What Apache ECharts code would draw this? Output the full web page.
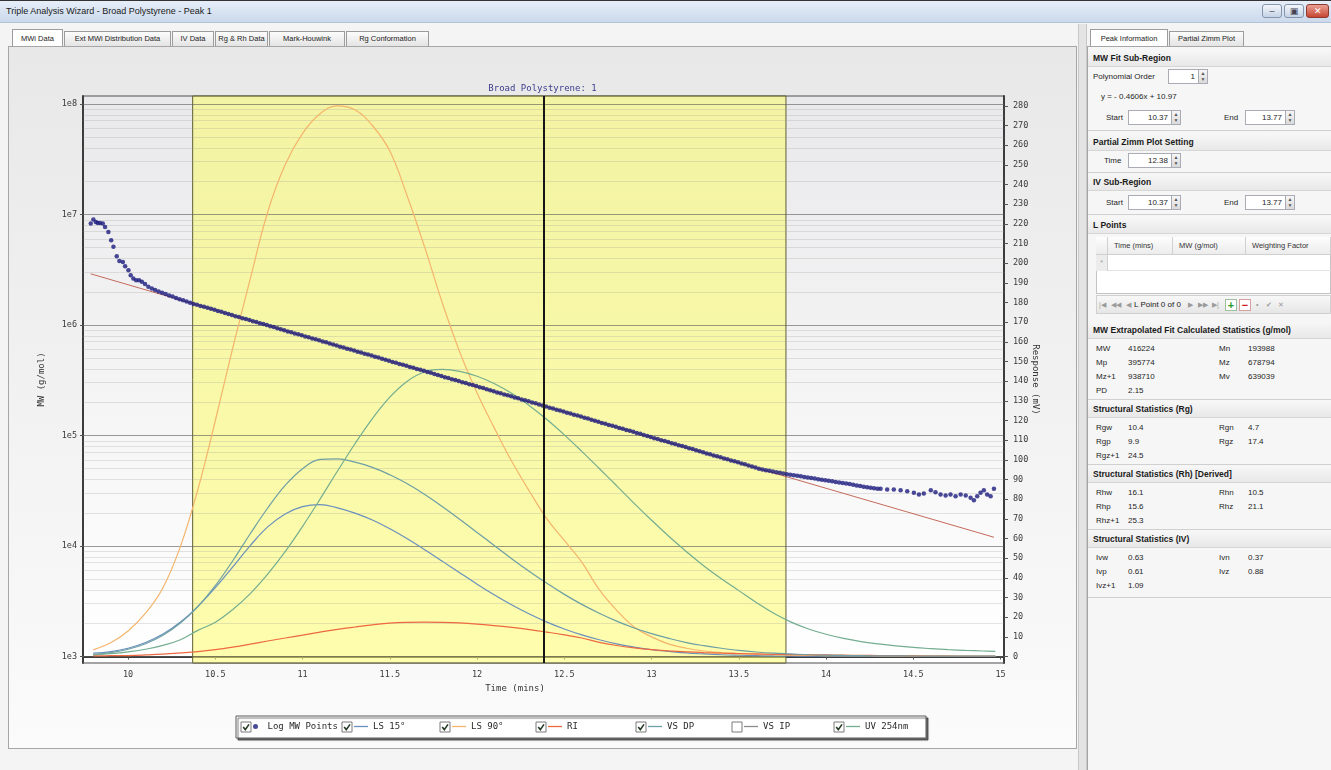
<!DOCTYPE html>
<html>
<head>
<meta charset="utf-8">
<title>Triple Analysis Wizard - Broad Polystyrene - Peak 1</title>
<script src="https://cdn.jsdelivr.net/npm/echarts@6.0.0/dist/echarts.min.js"></script>
<style>
*{box-sizing:border-box;margin:0;padding:0}
html,body{width:1331px;height:770px;overflow:hidden}
body{position:relative;background:#f4f4f4;font-family:"Liberation Sans",Arial,sans-serif;font-size:8px;color:#1e1e1e}
.a{position:absolute;white-space:nowrap}
#titlebar{left:0;top:0;width:1331px;height:23px;background:linear-gradient(#e6eef8,#cbd9ec);border-top:1px solid #333;border-bottom:1px solid #b2c2d8}
#titlebar span{position:absolute;left:6px;top:5px;font-size:9px;color:#1a1a1a}
.wb{top:4px;height:14px;border:1px solid #8595ad;border-radius:3px;background:linear-gradient(#f4f7fb,#c5d3e6);font-size:9px;text-align:center;line-height:12px;color:#445}
.tab{top:31px;height:16px;border:1px solid #9c9c9c;border-bottom:none;background:linear-gradient(#fcfcfc,#e2e2e2);text-align:center;line-height:14px;font-size:7.5px;color:#222}
.tab.on{top:29px;height:18px;background:#fff;line-height:17px}
#main{left:8px;top:46px;width:1069px;height:703px;border:1px solid #a6a6a6;background:linear-gradient(#e8e8e8,#fbfbfb)}
#chart{left:9px;top:47px;width:1067px;height:700px}
#split{left:1078px;top:24px;width:9px;height:746px;background:#e4e4e4;border-left:1px solid #c8c8c8;border-right:1px solid #c8c8c8}
#right{left:1087px;top:46px;width:244px;height:724px;background:#f6f6f6;border-left:1px solid #a6a6a6;border-top:1px solid #a6a6a6}
.hd{left:1088px;width:243px;height:17px;background:linear-gradient(#f7f7f7,#e8e8e8);border-bottom:1px solid #d6d6d6}
.b{font-weight:bold;font-size:8.5px;color:#1a1a1a}
.sep{left:1088px;width:243px;height:1px;background:#d0d0d0}
.inp{height:15px;border:1px solid #a9acb4;background:#fff;text-align:right;padding-right:3px;line-height:13px;font-size:8px}
.spn{width:10px;height:15px;border:1px solid #a9acb4;background:linear-gradient(#f6f6f6,#dadada);font-size:5px;line-height:6px;text-align:center;color:#555}
.cell{height:18px;border-right:1px solid #d0d0d0;border-bottom:1px solid #d0d0d0;background:linear-gradient(#fdfdfd,#ececec);line-height:17px;padding-left:6px;font-size:7.5px;color:#333}
.nav{top:298px;height:14px;font-size:7px;line-height:14px;color:#9a9a9a}
</style>
</head>
<body>
<div id="titlebar" class="a"><span>Triple Analysis Wizard - Broad Polystyrene - Peak 1</span></div>
<div class="a wb" style="left:1262px;width:20px">&#8211;</div>
<div class="a wb" style="left:1284px;width:20px">&#9635;</div>
<div class="a wb" style="left:1306px;width:23px;background:linear-gradient(#e9a195,#c74632);border-color:#8e3a2e;color:#fff">&#10005;</div>

<div class="a tab on" style="left:12px;width:51px">MWi Data</div>
<div class="a tab" style="left:64px;width:107px">Ext MWi Distribution Data</div>
<div class="a tab" style="left:172px;width:42px">IV Data</div>
<div class="a tab" style="left:215px;width:53px">Rg &amp; Rh Data</div>
<div class="a tab" style="left:269px;width:76px">Mark-Houwink</div>
<div class="a tab" style="left:346px;width:83px">Rg Conformation</div>

<div id="main" class="a"></div>
<div id="split" class="a"></div>

<div class="a tab on" style="left:1090px;width:78px">Peak Information</div>
<div class="a tab" style="left:1169px;width:75px">Partial Zimm Plot</div>
<div id="right" class="a"></div>

<div class="a hd" style="top:50px"></div>
<div class="a b" style="left:1093px;top:53px">MW Fit Sub-Region</div>
<div class="a" style="left:1093px;top:72px">Polynomial Order</div>
<div class="a inp" style="left:1168px;top:69px;width:31px">1</div>
<div class="a spn" style="left:1198px;top:69px">&#9650;<br>&#9660;</div>
<div class="a" style="left:1101px;top:92px">y = - 0.4606x + 10.97</div>
<div class="a" style="left:1106px;top:113px">Start</div>
<div class="a inp" style="left:1128px;top:110px;width:44px">10.37</div>
<div class="a spn" style="left:1171px;top:110px">&#9650;<br>&#9660;</div>
<div class="a" style="left:1224px;top:113px">End</div>
<div class="a inp" style="left:1245px;top:110px;width:41px">13.77</div>
<div class="a spn" style="left:1285px;top:110px">&#9650;<br>&#9660;</div>
<div class="a sep" style="top:130px"></div>

<div class="a hd" style="top:134px"></div>
<div class="a b" style="left:1093px;top:137px">Partial Zimm Plot Setting</div>
<div class="a" style="left:1104px;top:156px">Time</div>
<div class="a inp" style="left:1128px;top:153px;width:44px">12.38</div>
<div class="a spn" style="left:1171px;top:153px">&#9650;<br>&#9660;</div>
<div class="a sep" style="top:172px"></div>

<div class="a hd" style="top:174px"></div>
<div class="a b" style="left:1093px;top:177px">IV Sub-Region</div>
<div class="a" style="left:1106px;top:198px">Start</div>
<div class="a inp" style="left:1128px;top:195px;width:44px">10.37</div>
<div class="a spn" style="left:1171px;top:195px">&#9650;<br>&#9660;</div>
<div class="a" style="left:1224px;top:198px">End</div>
<div class="a inp" style="left:1245px;top:195px;width:41px">13.77</div>
<div class="a spn" style="left:1285px;top:195px">&#9650;<br>&#9660;</div>
<div class="a sep" style="top:214px"></div>

<div class="a hd" style="top:217px"></div>
<div class="a b" style="left:1093px;top:220px">L Points</div>
<div class="a" style="left:1096px;top:237px;width:235px;height:57px;background:#fff;border:1px solid #c4c4c4"></div>
<div class="a cell" style="left:1096px;top:237px;width:12px"></div>
<div class="a cell" style="left:1108px;top:237px;width:65px">Time (mins)</div>
<div class="a cell" style="left:1173px;top:237px;width:73px">MW (g/mol)</div>
<div class="a cell" style="left:1246px;top:237px;width:85px">Weighting Factor</div>
<div class="a" style="left:1096px;top:255px;width:12px;height:16px;background:#ececec;border-right:1px solid #d0d0d0;font-size:7px;color:#999;text-align:center;line-height:16px">*</div>
<div class="a" style="left:1108px;top:270px;width:223px;height:1px;background:#e2e2e2"></div>
<div class="a" style="left:1096px;top:295px;width:235px;height:19px;background:linear-gradient(#f8f8f8,#e6e6e6);border:1px solid #d0d0d0"></div>
<div class="a nav" style="left:1099px">|&#9664;</div>
<div class="a nav" style="left:1111px">&#9664;&#9664;</div>
<div class="a nav" style="left:1126px">&#9664;</div>
<div class="a nav" style="left:1134px;color:#222;font-size:8px">L Point 0 of 0</div>
<div class="a nav" style="left:1188px">&#9654;</div>
<div class="a nav" style="left:1198px">&#9654;&#9654;</div>
<div class="a nav" style="left:1212px">&#9654;|</div>
<div class="a" style="left:1225px;top:299px;width:12px;height:12px;border:1px solid #9fbf9f;background:#fff;color:#2a9a2a;font-weight:bold;font-size:11px;line-height:10px;text-align:center">+</div>
<div class="a" style="left:1239px;top:299px;width:12px;height:12px;border:1px solid #d9a0a0;background:#fff;color:#d02020;font-weight:bold;font-size:11px;line-height:10px;text-align:center">&#8722;</div>
<div class="a nav" style="left:1256px">&#8226;</div>
<div class="a nav" style="left:1266px">&#10004;</div>
<div class="a nav" style="left:1278px">&#10005;</div>

<div class="a hd" style="top:322px"></div>
<div class="a b" style="left:1093px;top:325px">MW Extrapolated Fit Calculated Statistics (g/mol)</div>
<div class="a" style="left:1096px;top:344px">MW</div><div class="a" style="left:1128px;top:344px">416224</div>
<div class="a" style="left:1219px;top:344px">Mn</div><div class="a" style="left:1248px;top:344px">193988</div>
<div class="a" style="left:1096px;top:358px">Mp</div><div class="a" style="left:1128px;top:358px">395774</div>
<div class="a" style="left:1219px;top:358px">Mz</div><div class="a" style="left:1248px;top:358px">678794</div>
<div class="a" style="left:1096px;top:372px">Mz+1</div><div class="a" style="left:1128px;top:372px">938710</div>
<div class="a" style="left:1219px;top:372px">Mv</div><div class="a" style="left:1248px;top:372px">639039</div>
<div class="a" style="left:1096px;top:386px">PD</div><div class="a" style="left:1128px;top:386px">2.15</div>
<div class="a sep" style="top:399px"></div>

<div class="a hd" style="top:401px"></div>
<div class="a b" style="left:1093px;top:404px">Structural Statistics (Rg)</div>
<div class="a" style="left:1096px;top:423px">Rgw</div><div class="a" style="left:1128px;top:423px">10.4</div>
<div class="a" style="left:1219px;top:423px">Rgn</div><div class="a" style="left:1248px;top:423px">4.7</div>
<div class="a" style="left:1096px;top:437px">Rgp</div><div class="a" style="left:1128px;top:437px">9.9</div>
<div class="a" style="left:1219px;top:437px">Rgz</div><div class="a" style="left:1248px;top:437px">17.4</div>
<div class="a" style="left:1096px;top:451px">Rgz+1</div><div class="a" style="left:1128px;top:451px">24.5</div>
<div class="a sep" style="top:464px"></div>

<div class="a hd" style="top:466px"></div>
<div class="a b" style="left:1093px;top:469px">Structural Statistics (Rh) [Derived]</div>
<div class="a" style="left:1096px;top:488px">Rhw</div><div class="a" style="left:1128px;top:488px">16.1</div>
<div class="a" style="left:1219px;top:488px">Rhn</div><div class="a" style="left:1248px;top:488px">10.5</div>
<div class="a" style="left:1096px;top:502px">Rhp</div><div class="a" style="left:1128px;top:502px">15.6</div>
<div class="a" style="left:1219px;top:502px">Rhz</div><div class="a" style="left:1248px;top:502px">21.1</div>
<div class="a" style="left:1096px;top:516px">Rhz+1</div><div class="a" style="left:1128px;top:516px">25.3</div>
<div class="a sep" style="top:529px"></div>

<div class="a hd" style="top:531px"></div>
<div class="a b" style="left:1093px;top:534px">Structural Statistics (IV)</div>
<div class="a" style="left:1096px;top:553px">Ivw</div><div class="a" style="left:1128px;top:553px">0.63</div>
<div class="a" style="left:1219px;top:553px">Ivn</div><div class="a" style="left:1248px;top:553px">0.37</div>
<div class="a" style="left:1096px;top:567px">Ivp</div><div class="a" style="left:1128px;top:567px">0.61</div>
<div class="a" style="left:1219px;top:567px">Ivz</div><div class="a" style="left:1248px;top:567px">0.88</div>
<div class="a" style="left:1096px;top:581px">Ivz+1</div><div class="a" style="left:1128px;top:581px">1.09</div>
<div class="a sep" style="top:597px"></div>

<div id="chart" class="a"></div>

<script>
// ---------- data ----------
const xTicks = [10, 10.5, 11, 11.5, 12, 12.5, 13, 13.5, 14, 14.5, 15];
const mwTickExponents = [3, 4, 5, 6, 7, 8];
const responseTicks = [0,10,20,30,40,50,60,70,80,90,100,110,120,130,140,150,160,170,180,190,200,210,220,230,240,250,260,270,280];
const seriesNames = ['Log MW Points', 'LS 15°', 'LS 90°', 'RI', 'VS DP', 'VS IP', 'UV 254nm'];

const bandStart = 10.37, bandEnd = 13.77, zimmTime = 12.38;

const curveTime = [9.8,9.9,10.0,10.1,10.2,10.3,10.4,10.5,10.6,10.7,10.8,10.9,11.0,11.1,11.2,11.3,11.4,11.5,11.6,11.7,11.8,11.9,12.0,12.1,12.2,12.3,12.4,12.5,12.6,12.7,12.8,12.9,13.0,13.1,13.2,13.3,13.4,13.5,13.6,13.7,13.8,13.9,14.0,14.1,14.2,14.3,14.4,14.5,14.6,14.7,14.8,14.9,14.97];
const ls15 = [1.7,2.5,4.2,7.1,11.4,17.5,25.5,35,45.6,56.4,65.9,72.5,76.2,77.2,75.6,72.9,69.4,65,59.9,54.3,48.5,42.6,36.8,31.3,26.2,21.6,17.5,14,11,8.5,6.4,4.8,3.5,2.6,1.8,1.3,0.9,0.65,0.45,0.3,0.25,0.2,0.2,0.15,0.15,0.1,0.1,0.1,0.1,0.1,0.1,0.1,0.1];
const ls90 = [3.4,7,13,22,35,56,85,120,157,192,226,250,266,276,280,278,270,257,234,208,180,155,134,116,99,84,70,59,48,34,23.5,15,10,6.3,4.2,2.8,2,1.5,1.1,0.9,0.7,0.6,0.5,0.45,0.4,0.35,0.3,0.3,0.25,0.2,0.2,0.2,0.2];
const ri = [0.3,0.4,0.5,0.8,1.2,1.8,2.5,3.5,4.8,6.3,7.9,9.4,10.9,12.4,13.8,15,16.1,17,17.4,17.5,17.4,17.1,16.5,15.7,14.8,13.7,12.4,11,9.4,7.2,5.6,4.4,3.5,2.9,2.4,2,1.7,1.5,1.3,1.1,1,0.9,0.8,0.7,0.6,0.5,0.4,0.3,0.2,0.15,0.1,0.1,0.1];
const vsDp = [1.0,2.0,3.7,6.5,10.8,17,25.4,36,48.7,62.4,75.5,87,95.5,100.2,100.5,98.8,96.2,92.4,87.8,82.4,76.3,69.8,63.1,56.3,49.6,43.2,37.2,31.6,26.5,22,18,14.5,11.6,9.2,7.1,5.5,4.2,3.1,2.3,1.7,1.3,0.9,0.7,0.55,0.45,0.35,0.3,0.25,0.2,0.2,0.15,0.15,0.15];
const vsIp = [];
const uv254 = [0.9,1.5,2.4,3.7,5.7,8.5,13.3,17.4,23.9,32,41.9,53.3,66.2,80,94.3,108.2,121,131.9,140,144.8,146,145,142.5,138.7,133.7,127.5,120.5,112.7,104.3,95.6,86.8,77.9,69.3,61,53.3,46,39.5,33.5,27.5,22,17.5,14,11.3,9.2,7.6,6.4,5.4,4.6,4.0,3.5,3.1,2.8,2.6];

// Log MW points: elution time (min) and log10(MW, g/mol)
const mwTime = [9.786,9.801,9.815,9.826,9.839,9.855,9.868,9.887,9.903,9.916,9.935,9.950,9.970,9.983,10.002,10.015,10.030,10.046,10.063,10.079,10.097,10.116,10.136,10.155,
10.175,10.195,10.215,10.235,10.255,10.275,10.295,10.315,10.335,10.355,10.375,10.395,10.415,10.435,10.455,10.475,10.495,10.515,10.535,10.555,10.575,10.595,10.615,10.635,10.655,10.675,10.695,10.715,10.735,10.755,10.775,10.795,
10.815,10.835,10.855,10.875,10.895,10.915,10.935,10.955,10.975,10.995,11.015,11.035,11.055,11.075,11.095,11.115,11.135,11.155,11.175,11.195,11.215,11.235,11.255,11.275,11.295,11.315,11.335,11.355,11.375,11.395,
11.415,11.435,11.455,11.475,11.495,11.515,11.535,11.555,11.575,11.595,11.615,11.635,11.655,11.675,11.695,11.715,11.735,11.755,11.775,11.795,11.815,11.835,11.855,11.875,11.895,11.915,11.935,11.955,11.975,11.995,
12.015,12.035,12.055,12.075,12.095,12.115,12.135,12.155,12.175,12.195,12.215,12.235,12.255,12.275,12.295,12.315,12.335,12.355,12.375,12.395,12.415,12.435,12.455,12.475,12.495,12.515,12.535,12.555,12.575,12.595,
12.615,12.635,12.655,12.675,12.695,12.715,12.735,12.755,12.775,12.795,12.815,12.835,12.855,12.875,12.895,12.915,12.935,12.955,12.975,12.995,13.015,13.035,13.055,13.075,13.095,13.115,13.135,13.155,13.175,13.195,
13.215,13.235,13.255,13.275,13.295,13.315,13.335,13.355,13.375,13.395,13.415,13.435,13.455,13.475,13.495,13.515,13.535,13.555,13.575,13.595,13.615,13.635,13.655,13.675,13.695,13.715,13.735,13.755,13.775,13.795,
13.815,13.835,13.855,13.875,13.895,13.915,13.935,13.955,13.975,13.995,14.015,14.035,14.055,14.075,14.095,14.115,14.135,14.155,14.175,14.195,14.215,14.235,14.255,14.275,14.295,
14.312,14.350,14.388,14.427,14.465,14.503,14.532,14.560,14.600,14.627,14.656,14.685,14.713,14.742,14.771,14.800,14.828,14.847,14.866,14.885,14.904,14.923,14.943,14.962];
const mwLog10 = [6.918,6.955,6.932,6.923,6.923,6.918,6.887,6.842,6.767,6.707,6.623,6.580,6.569,6.532,6.496,6.451,6.421,6.406,6.406,6.391,6.370,6.346,6.331,6.316,
6.303,6.292,6.280,6.268,6.257,6.245,6.234,6.223,6.212,6.202,6.191,6.183,6.172,6.165,6.155,6.146,6.137,6.126,6.119,6.109,6.100,6.091,6.080,6.073,6.062,6.054,6.045,6.034,6.027,6.016,6.008,5.999,
5.988,5.981,5.970,5.962,5.953,5.942,5.935,5.924,5.916,5.907,5.896,5.889,5.878,5.870,5.861,5.850,5.843,5.832,5.824,5.815,5.804,5.797,5.786,5.778,5.769,5.758,5.751,5.740,5.732,5.723,
5.712,5.705,5.694,5.686,5.677,5.666,5.659,5.648,5.640,5.631,5.620,5.613,5.602,5.594,5.585,5.574,5.567,5.556,5.548,5.539,5.528,5.521,5.510,5.502,5.493,5.482,5.475,5.464,5.456,5.447,
5.436,5.429,5.418,5.410,5.401,5.390,5.383,5.372,5.364,5.355,5.344,5.337,5.326,5.318,5.309,5.298,5.291,5.280,5.272,5.263,5.252,5.245,5.234,5.226,5.217,5.206,5.199,5.188,5.180,5.171,
5.160,5.153,5.142,5.134,5.125,5.114,5.107,5.096,5.088,5.079,5.068,5.061,5.050,5.042,5.033,5.022,5.015,5.004,4.996,4.987,4.976,4.969,4.958,4.950,4.941,4.930,4.923,4.912,4.904,4.895,
4.884,4.877,4.866,4.858,4.849,4.838,4.831,4.820,4.812,4.803,4.792,4.785,4.774,4.766,4.757,4.746,4.739,4.728,4.720,4.711,4.700,4.693,4.686,4.680,4.674,4.668,4.662,4.656,4.650,4.645,
4.640,4.635,4.630,4.625,4.620,4.615,4.610,4.605,4.600,4.595,4.590,4.585,4.580,4.575,4.570,4.565,4.560,4.554,4.548,4.543,4.537,4.532,4.527,4.522,4.519,
4.517,4.511,4.511,4.505,4.496,4.481,4.466,4.475,4.505,4.486,4.466,4.457,4.466,4.450,4.466,4.457,4.436,4.414,4.450,4.481,4.505,4.466,4.450,4.517];

// polynomial fit (order 1): y = -0.4606x + 10.97, drawn between its two ends
const fitTime = [9.786, 14.962];
const fitLog10 = [6.463, 4.079];

// ---------- styles ----------
const MONO = "'DejaVu Sans Mono', monospace";
const colors = {
  'Log MW Points': '#1c1c7e',
  'LS 15°': '#6a90bd',
  'LS 90°': '#f4b46c',
  'RI': '#ee6840',
  'VS DP': '#6e9fa4',
  'VS IP': '#8c8c8c',
  'UV 254nm': '#74ad90'
};
const curveData = {'LS 15°': ls15, 'LS 90°': ls90, 'RI': ri, 'VS DP': vsDp, 'VS IP': vsIp, 'UV 254nm': uv254};

// horizontal grid lines of the log axis (decades and 2..9 sub-divisions)
const yMin = 2.941, yMax = 8.0724;
const gridLines = [];
mwTickExponents.forEach(e => {
  gridLines.push({yAxis: e, lineStyle: {color: 'rgba(90,90,90,0.6)', width: 1, type: 'solid'}});
});
for (let e = 2; e <= 8; e++) {
  for (let k = 2; k <= 9; k++) {
    const v = e + Math.log10(k);
    if (v > yMin + 0.01 && v < yMax - 0.005) gridLines.push({yAxis: v, lineStyle: {color: 'rgba(150,150,150,0.25)', width: 1, type: 'solid'}});
  }
}

const series = [];
series.push({
  name: 'MW Fit', type: 'line', yAxisIndex: 0, z: 3,
  data: fitTime.map((t, i) => [t, fitLog10[i]]),
  showSymbol: false, symbol: 'none', lineStyle: {color: '#c56a5c', width: 1},
  markArea: {
    silent: true, z: 1,
    itemStyle: {color: 'rgba(252,252,105,0.55)', borderColor: '#5d5d36', borderWidth: 1},
    data: [[{xAxis: bandStart}, {xAxis: bandEnd}]]
  },
  markLine: {
    silent: true, z: 1, symbol: ['none', 'none'], label: {show: false}, animation: false,
    emphasis: {disabled: true},
    lineStyle: {type: 'solid'},
    data: gridLines
  }
});
seriesNames.slice(1).forEach(n => {
  const arr = curveData[n];
  series.push({
    name: n, type: 'line', yAxisIndex: 1, z: 2,
    data: arr.map((v, i) => [curveTime[i], v]),
    showSymbol: false, symbol: 'none', smooth: 0.4,
    lineStyle: {color: colors[n], width: 1.2}, itemStyle: {color: colors[n]}
  });
});
series.push({
  name: 'Log MW Points', type: 'scatter', yAxisIndex: 0, z: 4,
  data: mwTime.map((t, i) => [t, mwLog10[i]]),
  symbol: 'circle', symbolSize: 4.5,
  itemStyle: {color: colors['Log MW Points']},
  markLine: {
    silent: true, symbol: ['none', 'none'], label: {show: false}, animation: false,
    emphasis: {disabled: true},
    lineStyle: {color: '#151515', width: 2, type: 'solid'},
    data: [{xAxis: zimmTime}]
  }
});

// legend: one component per entry, laid out like the instrument software's legend strip
const legendIconX = [244, 345, 443, 539, 639, 735, 837];
const checked = [true, true, true, true, true, false, true];
const legend = seriesNames.map((n, i) => ({
  data: [{name: n, icon: i === 0 ? 'circle' : 'path://M0,0H14V1.3H0Z'}],
  left: legendIconX[i], top: 675, padding: 0, itemWidth: 14, itemHeight: 5,
  selectedMode: false,
  textStyle: {fontFamily: MONO, fontSize: 9, color: '#2a2a2a'}
}));

const graphic = [{
  type: 'rect', z: 0, silent: true,
  shape: {x: 227, y: 669, width: 690, height: 22},
  style: {fill: '#ffffff', stroke: '#5a5a5a', lineWidth: 1, shadowColor: 'rgba(0,0,0,0.55)', shadowOffsetX: 2, shadowOffsetY: 2, shadowBlur: 1}
}];
legendIconX.forEach((x, i) => {
  const bx = x - 12, by = 675;
  graphic.push({type: 'rect', z: 1, silent: true, shape: {x: bx, y: by, width: 10, height: 10},
    style: {fill: '#ffffff', stroke: '#7b7b7b', lineWidth: 1}});
  if (checked[i]) {
    graphic.push({type: 'polyline', z: 2, silent: true,
      shape: {points: [[bx + 2.2, by + 5], [bx + 4.3, by + 7.6], [bx + 8, by + 2.4]]},
      style: {stroke: '#263b26', lineWidth: 1.6, fill: null}});
  }
});

const chart = echarts.init(document.getElementById('chart'), null, {renderer: 'canvas'});
chart.setOption({
  animation: false,
  backgroundColor: 'transparent',
  color: seriesNames.map(n => colors[n]),
  title: {
    text: 'Broad Polystyrene: 1', left: 'center', top: 32,
    textStyle: {fontFamily: MONO, fontSize: 9, fontWeight: 'normal', color: '#3b3b8e'}
  },
  grid: {
    left: 74, top: 49, width: 921, height: 567, show: true,
    borderColor: '#4e4e4e', borderWidth: 1,
    backgroundColor: {type: 'linear', x: 0, y: 0, x2: 0, y2: 1,
      colorStops: [{offset: 0, color: '#e9e9eb'}, {offset: 1, color: '#ffffff'}]}
  },
  legend: legend,
  graphic: graphic,
  xAxis: {
    type: 'value', min: 9.7416, max: 15.0195,
    name: 'Time (mins)', nameLocation: 'middle', nameGap: 15,
    nameTextStyle: {fontFamily: MONO, fontSize: 9, color: '#333', padding: [0, 57, 0, 0]},
    axisLine: {show: true, lineStyle: {color: '#3c3c3c', width: 2}},
    axisTick: {show: true, length: 3, customValues: xTicks, lineStyle: {color: '#555'}},
    axisLabel: {customValues: xTicks, margin: 7, fontFamily: MONO, fontSize: 8.5, color: '#3a3a3a'},
    splitLine: {show: false}
  },
  yAxis: [{
    type: 'value', min: yMin, max: yMax, position: 'left',
    name: 'MW (g/mol)', nameLocation: 'middle', nameGap: 37, nameRotate: 90,
    nameTextStyle: {fontFamily: MONO, fontSize: 9, color: '#333'},
    axisLine: {show: true, lineStyle: {color: '#3c3c3c', width: 2}},
    axisTick: {show: true, length: 3, customValues: mwTickExponents, lineStyle: {color: '#555'}},
    axisLabel: {customValues: mwTickExponents, margin: 6, fontFamily: MONO, fontSize: 8.5, color: '#3a3a3a',
      formatter: v => '1e' + v},
    splitLine: {show: false}
  }, {
    type: 'value', min: -3.3, max: 285, position: 'right',
    name: 'Response (mV)', nameLocation: 'middle', nameGap: 27, nameRotate: -90, nameMoveOverlap: false,
    nameTextStyle: {fontFamily: MONO, fontSize: 9, color: '#333'},
    axisLine: {show: true, lineStyle: {color: '#3c3c3c', width: 2}},
    axisTick: {show: true, length: 4, customValues: responseTicks, lineStyle: {color: '#555'}},
    axisLabel: {customValues: responseTicks, margin: 9, fontFamily: MONO, fontSize: 8.5, color: '#3a3a3a'},
    splitLine: {show: false}
  }],
  series: series
});
</script>
</body>
</html>
